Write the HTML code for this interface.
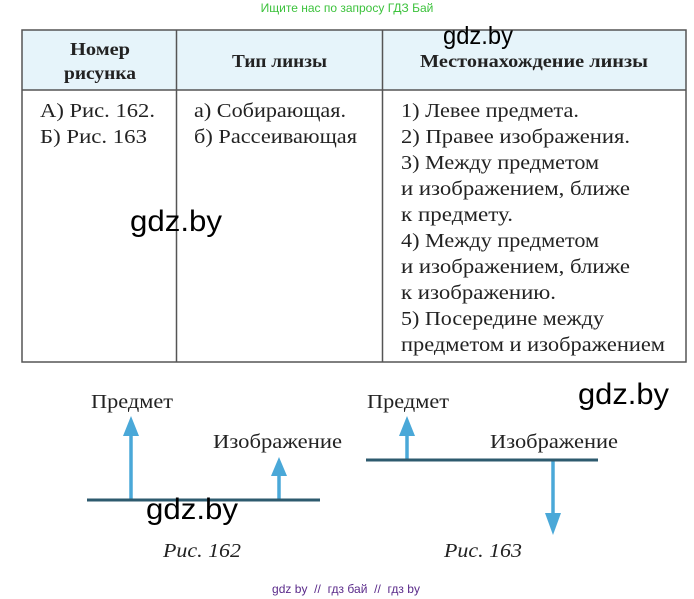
<!DOCTYPE html>
<html><head><meta charset="utf-8"><style>body{margin:0;background:#fff}svg{display:block}</style></head><body>
<svg width="694" height="599" xmlns="http://www.w3.org/2000/svg" font-family="Liberation Serif, serif" fill="#222">
<text x="347" y="12" font-family="Liberation Sans, sans-serif" font-size="12" fill="#3cc23c" text-anchor="middle">Ищите нас по запросу ГДЗ Бай</text>
<rect x="22" y="30" width="664" height="60" fill="#e6f4fa"/>
<g stroke="#555" stroke-width="1.5" fill="none">
<rect x="22" y="30" width="664" height="332"/>
<line x1="22" y1="90" x2="686" y2="90"/>
<line x1="176.5" y1="30" x2="176.5" y2="362"/>
<line x1="382.5" y1="30" x2="382.5" y2="362"/>
</g>
<g font-weight="bold" font-size="18">
<text x="70" y="55" textLength="60" lengthAdjust="spacingAndGlyphs">Номер</text>
<text x="64" y="79" textLength="72" lengthAdjust="spacingAndGlyphs">рисунка</text>
<text x="232" y="67" textLength="95" lengthAdjust="spacingAndGlyphs">Тип линзы</text>
<text x="420" y="67" textLength="228" lengthAdjust="spacingAndGlyphs">Местонахождение линзы</text>
</g>
<g font-size="20">
<text x="40" y="117" textLength="115" lengthAdjust="spacingAndGlyphs">А) Рис. 162.</text>
<text x="40" y="143" textLength="107" lengthAdjust="spacingAndGlyphs">Б) Рис. 163</text>
<text x="194" y="117" textLength="152" lengthAdjust="spacingAndGlyphs">а) Собирающая.</text>
<text x="194" y="143" textLength="163" lengthAdjust="spacingAndGlyphs">б) Рассеивающая</text>
<text x="401" y="117" textLength="178" lengthAdjust="spacingAndGlyphs">1) Левее предмета.</text>
<text x="401" y="143" textLength="229" lengthAdjust="spacingAndGlyphs">2) Правее изображения.</text>
<text x="401" y="169" textLength="198" lengthAdjust="spacingAndGlyphs">3) Между предметом</text>
<text x="401" y="195" textLength="229" lengthAdjust="spacingAndGlyphs">и изображением, ближе</text>
<text x="401" y="221" textLength="112" lengthAdjust="spacingAndGlyphs">к предмету.</text>
<text x="401" y="247" textLength="198" lengthAdjust="spacingAndGlyphs">4) Между предметом</text>
<text x="401" y="273" textLength="229" lengthAdjust="spacingAndGlyphs">и изображением, ближе</text>
<text x="401" y="299" textLength="155" lengthAdjust="spacingAndGlyphs">к изображению.</text>
<text x="401" y="325" textLength="203" lengthAdjust="spacingAndGlyphs">5) Посередине между</text>
<text x="401" y="351" textLength="264" lengthAdjust="spacingAndGlyphs">предметом и изображением</text>
</g>
<g font-size="20">
<text x="91" y="408" textLength="82" lengthAdjust="spacingAndGlyphs">Предмет</text>
<text x="213" y="448" textLength="129" lengthAdjust="spacingAndGlyphs">Изображение</text>
<text x="367" y="408" textLength="82" lengthAdjust="spacingAndGlyphs">Предмет</text>
<text x="490" y="448" textLength="128" lengthAdjust="spacingAndGlyphs">Изображение</text>
<text x="163" y="557" font-style="italic" textLength="78" lengthAdjust="spacingAndGlyphs">Рис. 162</text>
<text x="444" y="557" font-style="italic" textLength="78" lengthAdjust="spacingAndGlyphs">Рис. 163</text>
</g>
<g stroke="#4aa8d8" stroke-width="3.5" fill="#4aa8d8">
<line x1="131" y1="500" x2="131" y2="430"/><polygon stroke="none" points="131,416 123,436 139,436"/>
<line x1="279" y1="500" x2="279" y2="468"/><polygon stroke="none" points="279,457 271,476 287,476"/>
<line x1="407" y1="460" x2="407" y2="430"/><polygon stroke="none" points="407,416 399,436 415,436"/>
<line x1="553" y1="460" x2="553" y2="522"/><polygon stroke="none" points="553,535 545,513 561,513"/>
</g>
<g stroke="#2d5a6e" stroke-width="3">
<line x1="87" y1="500" x2="320" y2="500"/>
<line x1="366" y1="460" x2="598" y2="460"/>
</g>
<g font-family="Liberation Sans, sans-serif" fill="#000">
<text x="443" y="44" font-size="25" textLength="70" lengthAdjust="spacingAndGlyphs">gdz.by</text>
<text x="130" y="231" font-size="30" textLength="92" lengthAdjust="spacingAndGlyphs">gdz.by</text>
<text x="578" y="404" font-size="30" textLength="91" lengthAdjust="spacingAndGlyphs">gdz.by</text>
<text x="146" y="519" font-size="30" textLength="92" lengthAdjust="spacingAndGlyphs">gdz.by</text>
</g>
<text x="272" y="593" font-family="Liberation Sans, sans-serif" font-size="12" fill="#5a2a8a" textLength="148" lengthAdjust="spacing" xml:space="preserve">gdz by  //  гдз бай  //  гдз by</text>
</svg>
</body></html>
